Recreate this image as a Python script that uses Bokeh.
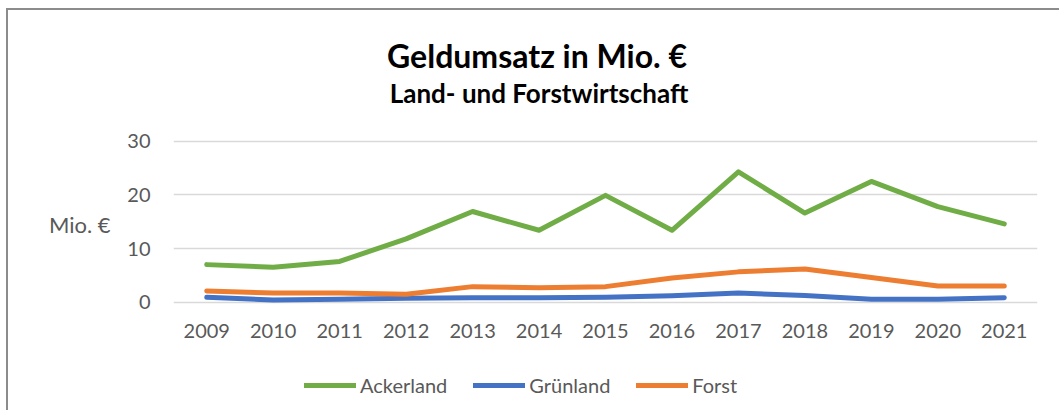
from bokeh.plotting import figure
from bokeh.models import (Label, Legend, LegendItem, FixedTicker, Range1d,
                          FactorRange, LinearAxis)
from bokeh.core.properties import value
from bokeh.embed import file_html
from bokeh.resources import INLINE

years = ["2009", "2010", "2011", "2012", "2013", "2014", "2015",
         "2016", "2017", "2018", "2019", "2020", "2021"]
ackerland = [7.0, 6.5, 7.6, 11.8, 16.9, 13.4, 19.9, 13.4, 24.3, 16.6, 22.5, 17.8, 14.6]
gruenland = [0.9, 0.4, 0.55, 0.75, 0.85, 0.85, 0.9, 1.2, 1.7, 1.25, 0.55, 0.55, 0.85]
forst = [2.1, 1.7, 1.7, 1.5, 2.9, 2.7, 2.9, 4.5, 5.65, 6.2, 4.6, 3.0, 3.0]
y_ticks = [0, 10, 20, 30]
title_text = "Geldumsatz in Mio. €"
subtitle_text = "Land- und Forstwirtschaft"
y_label_text = "Mio. €"

series = [("Ackerland", ackerland, "#70AD47"),
          ("Grünland", gruenland, "#4472C4"),
          ("Forst", forst, "#ED7D31")]

FONT = "Lato"
TXT = "#595959"

p = figure(frame_width=864, frame_height=400, output_backend="svg", toolbar_location=None,
           x_range=FactorRange(*years), y_range=Range1d(-20.18, 54.35),
           min_border_left=165, min_border_right=22, min_border_top=0,
           min_border_bottom=0)
p.styles = {"margin-left": "6px", "margin-top": "8px",
            "border-top": "2px solid #8c8c8c", "border-left": "2px solid #8c8c8c"}
p.outline_line_color = None
p.background_fill_color = "white"
p.border_fill_color = "white"
p.xaxis.visible = False
p.xgrid.grid_line_color = None
p.ygrid.grid_line_color = "#D9D9D9"
p.ygrid.grid_line_width = 1.5

yax = p.yaxis[0]
yax.ticker = FixedTicker(ticks=y_ticks)
yax.axis_line_color = None
yax.major_tick_line_color = None
yax.minor_tick_line_color = None
yax.major_tick_out = 0
yax.minor_tick_out = 0
yax.major_label_text_font = FONT
yax.major_label_text_font_size = "20px"
yax.major_label_text_color = TXT
yax.major_label_standoff = 23

# axis title, placed at the height of the reference label
lab_ax = LinearAxis(ticker=FixedTicker(ticks=[14.5]),
                    major_label_overrides={14.5: y_label_text},
                    axis_line_color=None, major_tick_line_color=None,
                    minor_tick_line_color=None, major_tick_out=0, minor_tick_out=0,
                    major_label_text_font=FONT, major_label_text_font_size="22px",
                    major_label_text_color=TXT, major_label_standoff=14)
p.add_layout(lab_ax, "left")

items = []
for name, vals, col in series:
    r = p.line(years, vals, line_color=col, line_width=5, line_cap="round", line_join="round")
    items.append(LegendItem(label=name, renderers=[r]))

# category labels under the plot
p.text(x=years, y=[-5.4] * len(years), text=years, text_align="center",
       text_baseline="middle", text_font=value(FONT), text_font_size=value("20px"),
       text_color=TXT)

p.add_layout(Label(x=5.47, y=46.0, text=title_text, text_align="center",
                   text_baseline="middle", text_font=FONT, text_font_size="32px",
                   text_font_style="bold", text_color="black"))
p.add_layout(Label(x=5.5, y=39.0, text=subtitle_text, text_align="center",
                   text_baseline="middle", text_font=FONT, text_font_size="26px",
                   text_font_style="bold", text_color="black"))

legend = Legend(items=items, orientation="horizontal", location=(131, 13),
                label_text_font=FONT, label_text_font_size="20px",
                label_text_color=TXT, glyph_width=52, glyph_height=20,
                label_standoff=4, spacing=26, border_line_color=None,
                background_fill_alpha=0, margin=0, padding=6)
p.add_layout(legend, "center")

open("out.html", "w").write(file_html(p, INLINE))
